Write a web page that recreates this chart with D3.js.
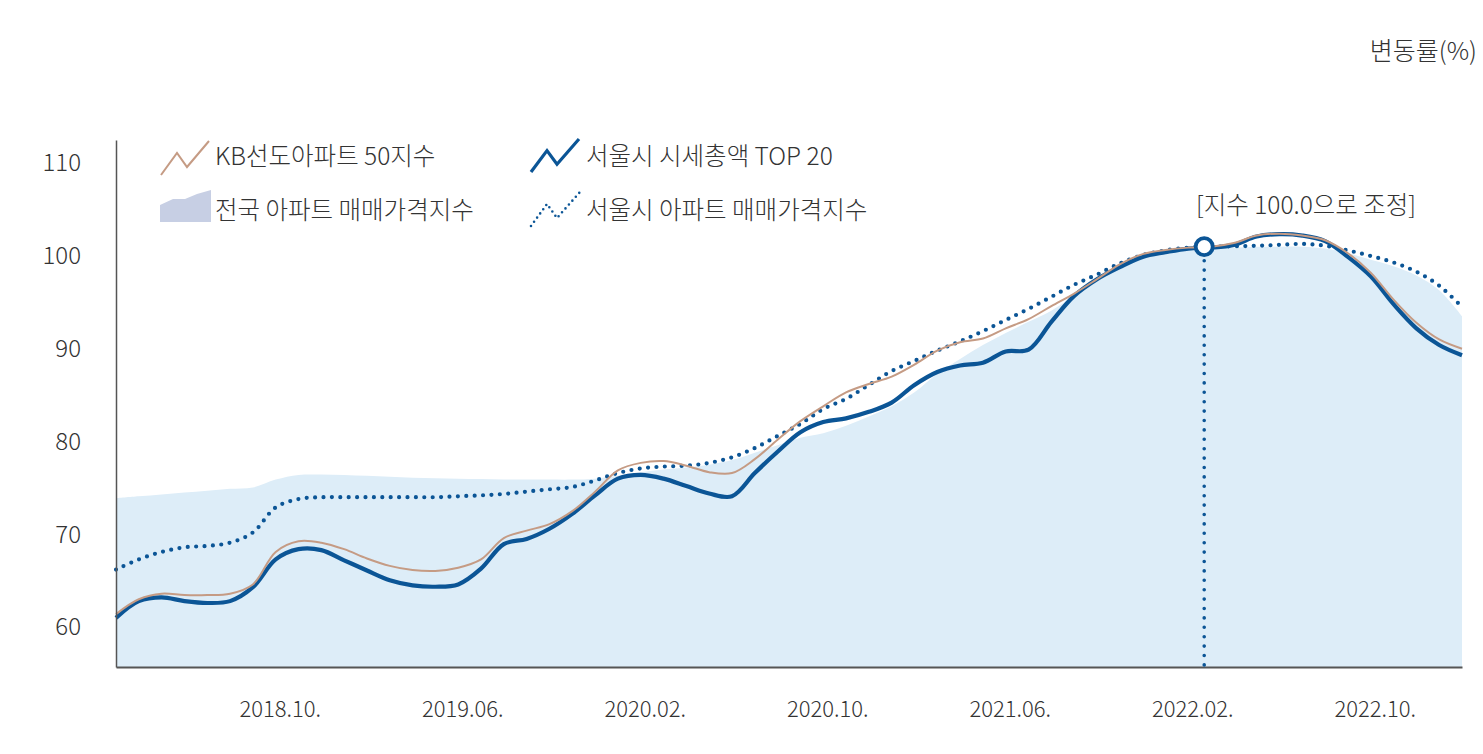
<!DOCTYPE html>
<html><head><meta charset="utf-8">
<script src="https://cdn.jsdelivr.net/npm/d3@7/dist/d3.min.js"></script>
<style>
html,body{margin:0;padding:0;background:#fff;}
svg{display:block;font-family:"Noto Sans CJK KR","Noto Sans",sans-serif;}
</style></head>
<body><svg id="c" width="1483" height="754"></svg>
<script>
// month index: 1 = 2018.01 ... (data from 2018.02 = 2 to 2023.01 = 61)
const months = d3.range(2, 62);
const tickMonths = [9, 17, 25, 33, 41, 49, 57];
const tickLabels = ["2018.10.", "2019.06.", "2020.02.", "2020.10.", "2021.06.", "2022.02.", "2022.10."];
const yTicks = [60, 70, 80, 90, 100, 110];

const kb50 = [61.4,63.0,63.6,63.45,63.45,63.6,64.6,68.1,69.25,69.1,68.4,67.4,66.6,66.15,66.05,66.4,67.3,69.6,70.4,71.1,
  72.5,74.6,76.9,77.7,77.9,77.4,76.7,76.6,78.1,80.2,82.2,83.8,85.3,86.2,87.0,88.3,89.8,90.7,91.1,92.2,
  93.2,94.6,95.95,97.5,99.1,100.2,100.65,100.9,101.0,101.4,102.2,102.4,102.2,101.7,100.3,98.2,95.3,92.8,91.0,90.0];
const top20 = [61.0,62.8,63.2,62.8,62.6,62.8,64.3,67.3,68.4,68.3,67.2,66.1,65.05,64.5,64.35,64.6,66.3,68.95,69.5,70.6,
  72.2,74.2,76.0,76.4,76.0,75.2,74.4,74.1,76.6,78.9,81.0,82.1,82.5,83.2,84.2,86.1,87.5,88.2,88.5,89.7,
  89.9,92.9,95.7,97.5,98.8,99.9,100.4,100.8,100.9,101.2,102.1,102.35,102.2,101.6,99.9,97.8,94.8,92.2,90.4,89.3];
const seoulIndex = [66.2,67.3,68.1,68.6,68.75,69.1,70.2,72.9,73.8,74.0,74.0,74.0,74.0,74.0,74.0,74.1,74.2,74.35,74.6,74.85,
  75.1,75.8,76.6,77.1,77.3,77.4,77.7,78.3,79.3,80.6,81.9,83.5,84.6,86.1,87.6,88.7,89.8,90.8,91.9,93.1,
  94.3,95.6,96.9,98.0,99.2,100.1,100.6,100.9,101.0,101.05,101.1,101.2,101.3,101.1,100.6,100.0,99.3,98.3,96.8,94.5];
const nationalIndex = [73.9,74.1,74.3,74.5,74.7,74.9,75.05,75.9,76.4,76.45,76.4,76.3,76.2,76.1,76.05,76.0,75.95,75.9,75.9,75.9,
  75.9,76.0,76.3,76.7,77.0,77.2,77.5,78.0,78.8,79.6,80.4,80.9,81.7,82.7,83.8,85.3,87.3,88.9,90.4,91.7,
  92.9,94.1,95.7,97.3,98.6,99.7,100.3,100.7,100.8,100.9,101.0,101.0,101.0,100.8,100.3,99.6,98.9,97.9,96.3,93.5];
const basePoint = {month: 49.7, value: 101.0};

const legendLabels = ["KB선도아파트 50지수", "서울시 시세총액 TOP 20", "전국 아파트 매매가격지수", "서울시 아파트 매매가격지수"];
const unitLabel = "변동률(%)";
const noteLabel = "[지수 100.0으로 조정]";

const C = {fill:"#ddedf8", blue:"#0b5596", brown:"#c59b84", axis:"#555", text:"#333", legendArea:"#c7cfe4"};

const svg = d3.select("#c");
const x = d3.scaleLinear().domain([2, 61]).range([116, 1462]);
const y = d3.scaleLinear().domain([55.7, 112.5]).range([667, 140]);
const curve = d3.curveCatmullRom.alpha(0.5);

// area
const area = d3.area().x((d,i)=>x(months[i])).y0(y(55.7)).y1(d=>y(d)).curve(curve);
svg.append("path").datum(nationalIndex).attr("d", area).attr("fill", C.fill);

const line = d3.line().x((d,i)=>x(months[i])).y(d=>y(d)).curve(curve);

// seoul index dotted
svg.append("path").datum(seoulIndex).attr("d", line).attr("fill","none")
  .attr("stroke", C.blue).attr("stroke-width", 4.2).attr("stroke-linecap","round").attr("stroke-dasharray","0 8.4");
// top20
svg.append("path").datum(top20).attr("d", line).attr("fill","none")
  .attr("stroke", C.blue).attr("stroke-width", 4.2).attr("stroke-linejoin","round");
// kb50
svg.append("path").datum(kb50).attr("d", line).attr("fill","none")
  .attr("stroke", C.brown).attr("stroke-width", 2);

// axes
const yAxis = d3.axisLeft(y).tickValues(yTicks).tickSize(0).tickPadding(35);
const gy = svg.append("g").attr("transform", `translate(${x(2)},0)`).call(yAxis);
gy.select(".domain").attr("stroke", C.axis).attr("stroke-width", 1.5);
gy.selectAll("text").attr("font-size", 24).attr("fill", C.text).attr("font-weight", 300)
  .attr("font-family", "'Noto Sans CJK KR', 'Noto Sans', sans-serif");

const xAxis = d3.axisBottom(x).tickValues(tickMonths).tickFormat((d,i)=>tickLabels[i]).tickSize(0).tickPadding(34).tickSizeOuter(0);
const gx = svg.append("g").attr("transform", `translate(0,${y(55.7)})`).call(xAxis);
gx.select(".domain").attr("stroke", C.axis).attr("stroke-width", 1.8);
gx.selectAll("text").attr("font-size", 22).attr("fill", C.text).attr("font-weight", 300).attr("dx", 4)
  .attr("font-family", "'Noto Sans CJK KR', 'Noto Sans', sans-serif");

// base marker
svg.append("line").attr("x1", x(basePoint.month)).attr("x2", x(basePoint.month))
  .attr("y1", y(basePoint.value)+14).attr("y2", y(55.7)+2)
  .attr("stroke", C.blue).attr("stroke-width", 3.6).attr("stroke-linecap","round").attr("stroke-dasharray","0 9.4");
svg.append("circle").attr("cx", x(basePoint.month)).attr("cy", y(basePoint.value)).attr("r", 8.5)
  .attr("fill","#fff").attr("stroke", C.blue).attr("stroke-width", 3.8);

// texts
svg.append("text").attr("x", 1477).attr("y", 60).attr("text-anchor","end").attr("font-size", 25)
  .attr("fill", C.text).attr("font-weight", 300).text(unitLabel);
svg.append("text").attr("x", 1306).attr("y", 214).attr("text-anchor","middle").attr("font-size", 24.5)
  .attr("fill", C.text).attr("font-weight", 300).text(noteLabel);

// legend
const lg = svg.append("g");
const zig = [[0,34],[16,12],[26,26],[48,0]];
const zl = d3.line();
lg.append("path").attr("d", zl(zig.map(p=>[161+p[0], 141+p[1]]))).attr("fill","none").attr("stroke", C.brown).attr("stroke-width", 2);
lg.append("path").attr("d", zl(zig.map(p=>[531+p[0], 139+p[1]*0.97]))).attr("fill","none").attr("stroke", C.blue).attr("stroke-width", 3.2);
lg.append("path").attr("d", zl([[531,226],[547,204],[557,218],[580,192]])).attr("fill","none")
  .attr("stroke", C.blue).attr("stroke-width", 2.6).attr("stroke-linecap","round").attr("stroke-dasharray","0 5.2");
lg.append("path").attr("d", "M160,222 L160,205 L173,199 L185,199 L197,194 L211,190 L211,222 Z").attr("fill", C.legendArea);
const lt = [[215,165],[586,165],[215,219],[586,219]];
legendLabels.forEach((t,i)=>{
  lg.append("text").attr("x", lt[i][0]).attr("y", lt[i][1]).attr("font-size", 24.5).attr("fill", C.text)
    .attr("font-weight", 300).text(t);
});
</script></body></html>
